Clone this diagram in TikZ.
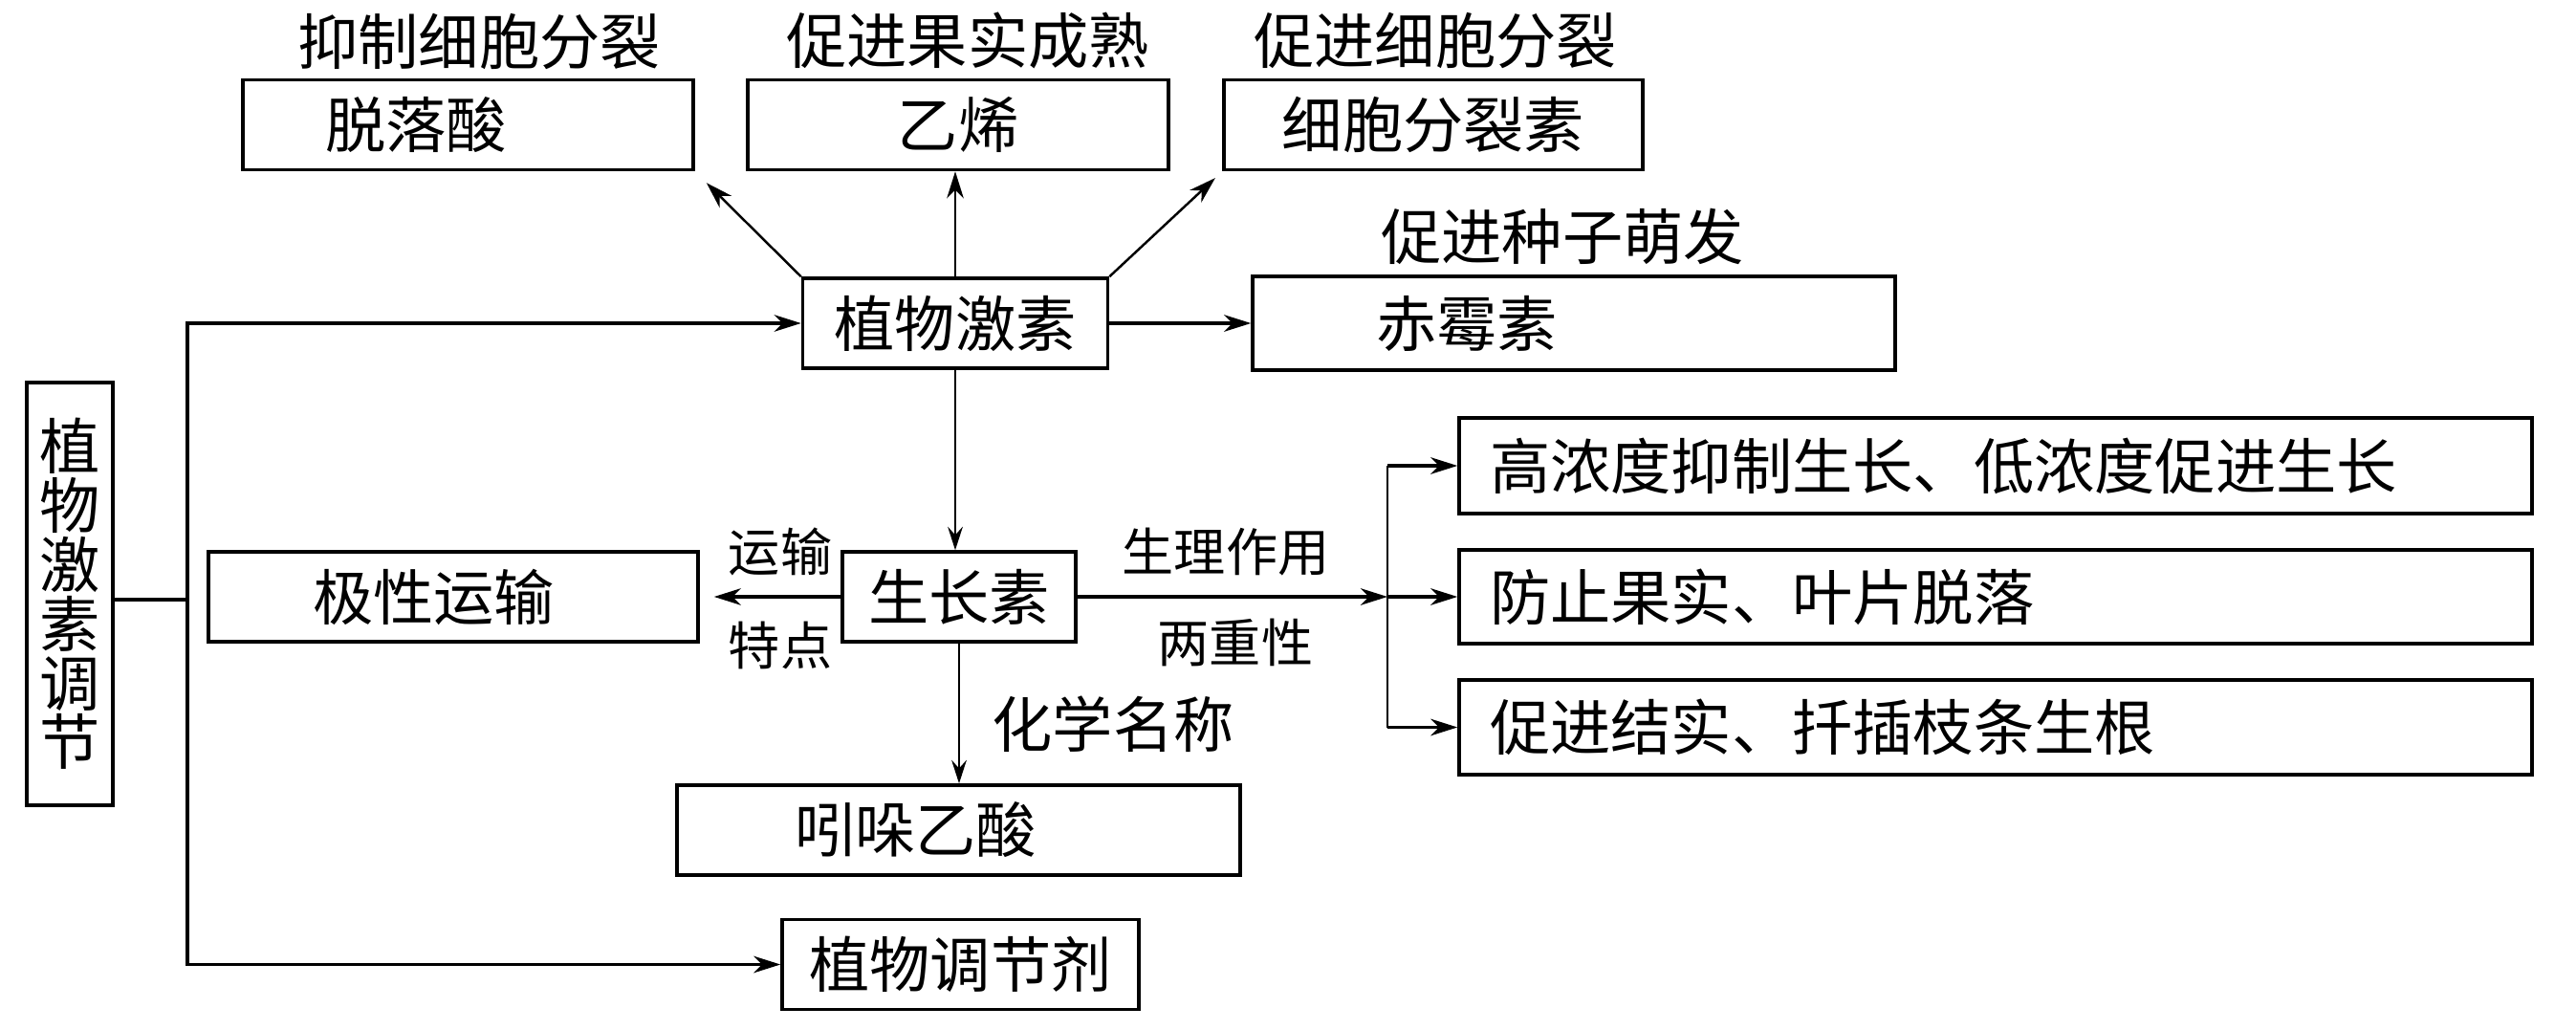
\documentclass[tikz,border=0pt]{standalone}
\usepackage{fontspec}
\setmainfont{Noto Sans CJK SC}
\usetikzlibrary{arrows.meta, positioning}

\begin{document}
\begin{tikzpicture}[
    box/.style={draw, line width=1pt, minimum height=0.94cm, inner sep=0pt, font=\fontsize{18pt}{18pt}\selectfont},
    note/.style={inner sep=0pt, font=\fontsize{18pt}{18pt}\selectfont},
    small/.style={inner sep=0pt, font=\fontsize{15.4pt}{15.4pt}\selectfont},
    line/.style={draw, -{Stealth[length=8pt, width=5pt, inset=2.5pt]}, line width=1pt},
    thin line/.style={draw, -{Stealth[length=7pt, width=4.5pt, inset=2.5pt]}, line width=0.45pt}]

    \useasboundingbox (0,0) rectangle (26.94,10.76);

    % left column and the main hormone box
    \node [box, minimum width=0.9cm, minimum height=4.42cm, align=center, font=\fontsize{18pt}{17.6pt}\selectfont] (ctrl) at (0.73,4.55) {植\\物\\激\\素\\调\\节};
    \node [box, minimum width=3.19cm] (hormone) at (9.99,7.38) {植物激素};

    % top row
    \node [box, text width=2.99cm, inner xsep=0.86cm, align=left] (aba) at (4.895,9.455) {脱落酸};
    \node [box, minimum width=4.40cm] (eth) at (10.02,9.455) {乙烯};
    \node [box, minimum width=4.38cm] (ck) at (14.99,9.455) {细胞分裂素};
    \node [box, text width=4.14cm, inner xsep=1.29cm, align=left, minimum height=0.98cm] (ga) at (16.46,7.38) {赤霉素};

    % auxin row
    \node [box, minimum width=2.44cm] (iaa) at (10.03,4.52) {生长素};
    \node [box, text width=2.94cm, inner xsep=1.09cm, align=left] (polar) at (4.74,4.52) {极性运输};
    \node [box, text width=3.43cm, inner xsep=1.23cm, align=left] (ind) at (10.025,2.08) {吲哚乙酸};
    \node [box, minimum width=3.73cm] (reg) at (10.045,0.675) {植物调节剂};

    % effects of auxin
    \node [box, text width=10.58cm, inner xsep=0.32cm, align=left, minimum height=1cm] (eff1) at (20.87,5.89) {高浓度抑制生长、低浓度促进生长};
    \node [box, text width=10.58cm, inner xsep=0.32cm, align=left, minimum height=0.98cm] (eff2) at (20.87,4.52) {防止果实、叶片脱落};
    \node [box, text width=10.58cm, inner xsep=0.32cm, align=left, minimum height=0.99cm] (eff3) at (20.87,3.155) {促进结实、扦插枝条生根};

    % labels
    \node [note] (l1) at (5.01,10.33) {抑制细胞分裂};
    \node [note] (l2) at (10.12,10.34) {促进果实成熟};
    \node [note] (l3) at (15.01,10.34) {促进细胞分裂};
    \node [note] (l4) at (16.34,8.29) {促进种子萌发};
    \node [note] (l5) at (11.64,3.19) {化学名称};
    \node [small] (l6) at (8.16,4.99) {运输};
    \node [small] (l7) at (8.16,4.01) {特点};
    \node [small] (l8) at (12.82,4.99) {生理作用};
    \node [small] (l9) at (12.92,4.04) {两重性};

    \coordinate (trunk) at (1.96,4.49);
    \coordinate (fork) at (14.51,4.52);

    \draw [line width=1pt] (ctrl.east |- trunk) -- (trunk);
    \path [line] (trunk) |- (hormone.west);
    \path [line] (trunk) |- (reg.west);
    \path [line] (hormone.east) -- (ga.west);
    \path [line, line width=0.7pt, shorten >=0.17cm] (hormone.north west) -- (aba.south east);
    \path [line, line width=0.7pt] (hormone.north) -- (hormone.north |- eth.south);
    \path [line, line width=0.7pt, shorten >=0.1cm] (hormone.north east) -- (ck.south west);
    \path [thin line] (hormone.south) -- (hormone.south |- iaa.north);
    \path [line, shorten >=0.15cm] (iaa.west) -- (polar.east);
    \path [thin line] (iaa.south) -- (iaa.south |- ind.north);
    \path [line] (iaa.east) -- (fork);
    \draw [line width=0.45pt] (fork |- eff1.west) -- (fork |- eff3.west);
    \path [line] (fork |- eff1.west) -- (eff1.west);
    \path [line] (fork) -- (eff2.west);
    \path [line] (fork |- eff3.west) -- (eff3.west);
\end{tikzpicture}
\end{document}
